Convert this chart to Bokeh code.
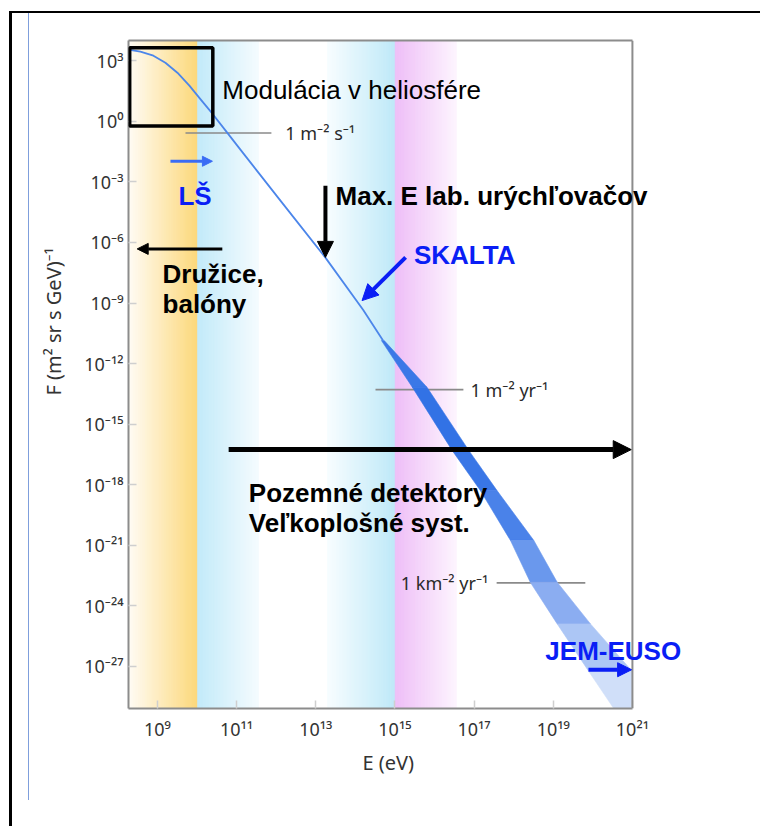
import numpy as np
from bokeh.plotting import figure
from bokeh.models import (FixedTicker, CustomJSTickFormatter, Label, Arrow, NormalHead,
                          BoxAnnotation, Span, Title, LogAxis)
from bokeh.embed import file_html
from bokeh.resources import INLINE
from bokeh.core.properties import value

# ---------------- data (log10 values) ----------------
# thin part of the cosmic-ray spectrum: log10 E [eV], log10 F
curve_logE = [8.267, 8.570, 8.899, 9.202, 9.505, 9.808, 10.086, 10.390, 10.743, 11.097, 11.602,
              12.108, 13.24, 14.20, 14.70]
curve_logF = [3.545, 3.446, 3.248, 2.901, 2.406, 1.762, 1.094, 0.376, -0.515, -1.406, -2.668,
              -3.931, -6.74, -9.35, -10.86]

# visible uncertainty band at high energies (rows of equal flux, lower/upper energy edge)
band_logF = [-10.86, -13.17, -16.31, -18.29, -20.76, -22.83, -24.89, -27.25, -29.20]
band_lower_logE = [14.66, 15.44, 16.45, 17.16, 17.92, 18.42, 19.10, 19.90, 20.57]
band_upper_logE = [14.73, 15.81, 16.87, 17.58, 18.51, 19.10, 19.94, 21.00, 21.00]
band_colors = ["#3b78e7", "#3272e5", "#3976e6", "#4a82e9", "#6a98ed", "#8badf1", "#acc6f5", "#d0dff9"]

# coloured energy regions (log10 E), gradient from -> to
bg_start = [8.27, 10.02, 13.30, 15.01]
bg_end = [10.02, 11.55, 15.01, 16.55]
bg_from = ["#fffcf6", "#c2eaf9", "#f8fdff", "#eebef7"]
bg_to = ["#fcd87a", "#f4fbfe", "#bfe9f8", "#fdf4fe"]

# reference flux levels
ref_logE_start = [9.71, 14.51, 17.57]
ref_logE_end = [11.88, 16.73, 19.81]
ref_logF = [-0.58, -13.29, -22.86]
ref_labels = ["1 m\u207b\u00b2 s\u207b\u00b9", "1 m\u207b\u00b2 yr\u207b\u00b9", "1 km\u207b\u00b2 yr\u207b\u00b9"]
ref_label_logE = [12.23, 16.91, 17.36]
ref_label_align = ["left", "left", "right"]

# axes
x_tick_exp = [9, 11, 13, 15, 17, 19, 21]
y_tick_exp = [3, 0, -3, -6, -9, -12, -15, -18, -21, -24, -27]
x_title = "E (eV)"
y_title = "F (m\u00b2 sr s GeV)\u207b\u00b9"

SUP = {"-": "\u207b", "0": "\u2070", "1": "\u00b9", "2": "\u00b2", "3": "\u00b3",
       "4": "\u2074", "5": "\u2075", "6": "\u2076", "7": "\u2077", "8": "\u2078", "9": "\u2079"}


def pow_label(e):
    return "10" + "".join(SUP[c] for c in str(e))


x_tick_labels = [pow_label(e) for e in x_tick_exp]
y_tick_labels = [pow_label(e) for e in y_tick_exp]


def hex2rgb(h):
    h = h.lstrip("#")
    return [int(h[i:i + 2], 16) for i in (0, 2, 4)]


def lerp(c1, c2, t):
    a, b = hex2rgb(c1), hex2rgb(c2)
    return "#%02x%02x%02x" % tuple(int(round(a[k] + (b[k] - a[k]) * t)) for k in range(3))


GRAY = "#8c8c8c"
# ---------------- figure ----------------
p = figure(width=760, height=826, x_axis_type="log", y_axis_type="log",
           x_range=(10 ** 8.27, 10 ** 22.72), y_range=(10 ** -29.08, 10 ** 4.0),
           output_backend="svg", toolbar_location=None, title=None,
           min_border_left=128, min_border_right=60, min_border_top=40, min_border_bottom=118,
           background_fill_color="white", border_fill_alpha=0)
p.grid.visible = False
p.outline_line_color = None

# slide decorations (thin frame lines of the screenshot)
p.styles = {
    "background-image": ("linear-gradient(to right, transparent 9px, #000 9px, #000 12px, transparent 12px), "
                         "linear-gradient(to bottom, transparent 11px, #000 11px, #000 13px, transparent 13px), "
                         "linear-gradient(to right, transparent 28px, #7f9fdc 28px, #7f9fdc 29px, transparent 29px)"),
    "background-position": "0 11px, 9px 0, 0 13px",
    "background-size": "100% 100%, 100% 100%, 100% 787px",
    "background-repeat": "no-repeat",
}

# background gradient regions
ql, qr, qc = [], [], []
n = 40
for r in range(len(bg_start)):
    edges = np.linspace(bg_start[r], bg_end[r], n + 1)
    for i in range(n):
        ql.append(10 ** edges[i])
        qr.append(10 ** edges[i + 1])
        qc.append(lerp(bg_from[r], bg_to[r], (i + 0.5) / n))
p.quad(left=ql, right=qr, bottom=1e-40, top=1e10, fill_color=qc, line_color=qc, line_width=1)

# reference levels
for i in range(len(ref_logF)):
    p.line([10 ** ref_logE_start[i], 10 ** ref_logE_end[i]], [10 ** ref_logF[i]] * 2,
           line_color="#8a8a8a", line_width=1.6)
    p.text(x=[10 ** ref_label_logE[i]], y=[10 ** ref_logF[i]], text=[ref_labels[i]],
           text_font=value("Noto Sans"), text_font_size="18px", text_color="#2a2a2a",
           text_align=ref_label_align[i], text_baseline="middle")

# band
bx, by = [], []
for i in range(len(band_logF) - 1):
    bx.append([10 ** band_lower_logE[i], 10 ** band_upper_logE[i],
               10 ** band_upper_logE[i + 1], 10 ** band_lower_logE[i + 1]])
    by.append([10 ** band_logF[i], 10 ** band_logF[i], 10 ** band_logF[i + 1], 10 ** band_logF[i + 1]])
p.patches(bx, by, fill_color=band_colors, line_color=band_colors, line_width=0.6)

# thin curve
p.line([10 ** v for v in curve_logE], [10 ** v for v in curve_logF], line_color="#4c86ea",
       line_width=1.8, line_join="round")

# axes
p.xaxis.ticker = FixedTicker(ticks=[10.0 ** e for e in x_tick_exp], minor_ticks=[])
p.yaxis.ticker = FixedTicker(ticks=[10.0 ** e for e in y_tick_exp], minor_ticks=[])
p.xaxis.formatter = CustomJSTickFormatter(
    args=dict(labels={str(e): l for e, l in zip(x_tick_exp, x_tick_labels)}),
    code="const e = Math.round(Math.log10(tick)); return labels[String(e)] || '';")
p.yaxis.formatter = CustomJSTickFormatter(
    args=dict(labels={str(e): l for e, l in zip(y_tick_exp, y_tick_labels)}),
    code="const e = Math.round(Math.log10(tick)); return labels[String(e)] || '';")
p.xaxis.bounds = (10 ** 8.27, 10 ** 21.0)
for ax in (p.xaxis, p.yaxis):
    ax.axis_line_color = GRAY
    ax.axis_line_width = 2
    ax.major_tick_in = 8
    ax.major_tick_out = 0
    ax.major_tick_line_color = "#cfcfcf"
    ax.major_tick_line_width = 1.5
    ax.minor_tick_line_color = None
    ax.major_label_text_font = "Noto Sans"
    ax.major_label_text_font_size = "18px"
    ax.major_label_text_color = "#333333"
p.xaxis.major_label_standoff = 8
p.yaxis.major_label_standoff = 5

# top border of the plot box and right border at 10^21
top_ax = LogAxis(ticker=FixedTicker(ticks=[], minor_ticks=[]), bounds=(10 ** 8.27, 10 ** 21.0),
                 axis_line_color=GRAY, axis_line_width=2, major_tick_line_color=None,
                 minor_tick_line_color=None, major_label_text_font_size="0px")
p.add_layout(top_ax, "above")
p.add_layout(Span(location=10 ** 21.0, dimension="height", line_color=GRAY, line_width=2))

# axis titles
p.add_layout(Title(text=y_title, align="left", offset=313, standoff=30, text_font="Noto Sans",
                   text_font_style="normal", text_font_size="20px", text_color="#333333"), "left")
p.add_layout(Title(text=x_title, align="left", offset=234, standoff=6, text_font="Noto Sans",
                   text_font_style="normal", text_font_size="20px", text_color="#333333"), "below")

# annotation box (heliospheric modulation)
p.add_layout(BoxAnnotation(left=10 ** 8.30, right=10 ** 10.40, bottom=10 ** -0.23, top=10 ** 3.64,
                           fill_alpha=0, line_color="black", line_alpha=1, line_width=3.5))

# arrows
BLUE = "#0a1ef5"
arrows = [
    (9.33, -1.98, 10.39, -1.98, "#3a6cf4", 3, 10),
    (13.245, -3.19, 13.245, -6.74, "black", 4, 16),
    (15.27, -6.74, 14.17, -8.88, BLUE, 4, 16),
    (10.64, -6.32, 8.49, -6.32, "black", 3, 11),
    (10.80, -16.26, 20.97, -16.26, "black", 5, 18),
    (19.89, -27.16, 20.98, -27.16, BLUE, 4, 14),
]
for x0, y0, x1, y1, c, lw, hs in arrows:
    p.add_layout(Arrow(x_start=10 ** x0, y_start=10 ** y0, x_end=10 ** x1, y_end=10 ** y1,
                       line_color=c, line_width=lw,
                       end=NormalHead(size=hs, fill_color=c, line_color=c, line_width=1)))

# texts
texts = [
    ("Modulácia v heliosfére", 10.64, 1.55, "normal", "black"),
    ("LŠ", 9.53, -3.68, "bold", BLUE),
    ("Max. E lab. urýchľovačov", 13.50, -3.68, "bold", "black"),
    ("SKALTA", 15.48, -6.60, "bold", BLUE),
    ("Družice,", 9.13, -7.56, "bold", "black"),
    ("balóny", 9.13, -9.03, "bold", "black"),
    ("Pozemné detektory", 11.31, -18.42, "bold", "black"),
    ("Veľkoplošné syst.", 11.31, -19.91, "bold", "black"),
    ("JEM-EUSO", 18.80, -26.21, "bold", BLUE),
]
for t, lx, ly, st, c in texts:
    p.add_layout(Label(x=10 ** lx, y=10 ** ly, text=t, text_font="Liberation Sans", text_font_style=st,
                       text_font_size="26px", text_color=c, text_align="left", text_baseline="alphabetic"))

open("out.html", "w").write(file_html(p, INLINE))
